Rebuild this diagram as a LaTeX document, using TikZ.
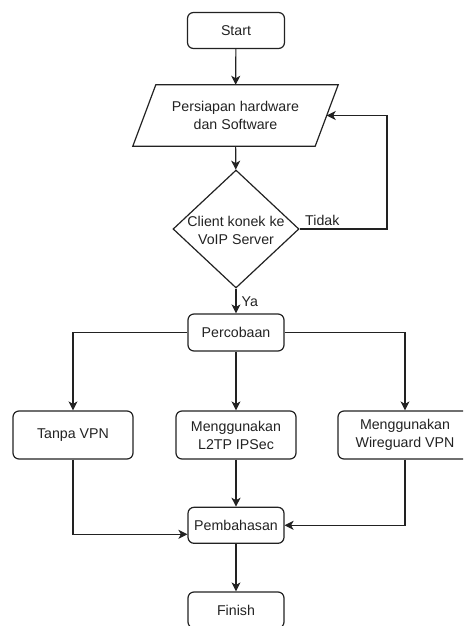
\documentclass[tikz,border=0pt]{standalone}
\usepackage{fontspec}
\setmainfont{Liberation Sans}
\usetikzlibrary{shapes.geometric,arrows.meta,calc}
\definecolor{ln}{HTML}{222222}
\begin{document}
\begin{tikzpicture}[x=1pt,y=-1pt,
  font=\fontsize{14.2}{18}\selectfont,
  every node/.style={text=ln},
  box/.style={draw=ln, line width=1.2pt, rounded corners=6pt, align=center, inner sep=0pt},
  arr/.style={draw=ln, line width=1.2pt, -{Stealth[length=9pt,width=9pt,inset=2.5pt]}},
  lbl/.style={inner sep=0pt, anchor=base west}]
\useasboundingbox (0,0) rectangle (463,626);
\clip (0,0) rectangle (463,626);
\node[box, minimum width=97pt, minimum height=36pt] (start) at (236,30.5) {Start};
\node[align=center, inner sep=0pt, minimum width=182pt, minimum height=61pt] (prep) at (235.5,115.5) {Persiapan hardware\\dan Software};
\draw[ln, line width=1.2pt] ([xshift=11.5pt]prep.north west) -- ([xshift=11.5pt]prep.north east) -- ([xshift=-11.5pt]prep.south east) -- ([xshift=-11.5pt]prep.south west) -- cycle;
\node[diamond, draw=ln, line width=1.2pt, minimum width=126pt, minimum height=118pt, inner sep=0pt,
  label={[align=center, inner sep=0pt, yshift=-1pt]center:Client konek ke\\VoIP Server}] (dec) at (236,229) {};
\node[box, minimum width=96pt, minimum height=37pt] (perc) at (236,332.5) {Percobaan};
\node[box, minimum width=120pt, minimum height=48pt] (tanpa) at (73,435) {Tanpa VPN};
\node[box, minimum width=120pt, minimum height=48pt] (l2tp) at (236,435) {Menggunakan\\L2TP IPSec};
\node[box, minimum width=134pt, minimum height=48pt] (wire) at (405,435) {Menggunakan\\Wireguard VPN};
\node[box, minimum width=96pt, minimum height=36pt] (pemb) at (236,525.3) {Pembahasan};
\node[box, minimum width=96pt, minimum height=36pt] (fin) at (236,610) {Finish};
\coordinate (fbk) at (387,229);
\coordinate (pembin) at ($(pemb.west)+(0,9)$);
\draw[arr] (start) -- (prep);
\draw[arr] (prep) -- (dec);
\draw[arr] (dec.east) -- (fbk) |- (prep.east);
\node[lbl] (tidak) at (305,225) {Tidak};
\draw[arr] (dec.south) -- (perc.north);
\node[lbl] (ya) at (241.5,306) {Ya};
\draw[arr] (perc.west) -| (tanpa.north);
\draw[arr] (perc.south) -- (l2tp.north);
\draw[arr] (perc.east) -| (wire.north);
\draw[arr] (tanpa.south) |- (pembin);
\draw[arr] (l2tp.south) -- (pemb.north);
\draw[arr] (wire.south) |- (pemb.east);
\draw[arr] (pemb.south) -- (fin.north);
\end{tikzpicture}
\end{document}
